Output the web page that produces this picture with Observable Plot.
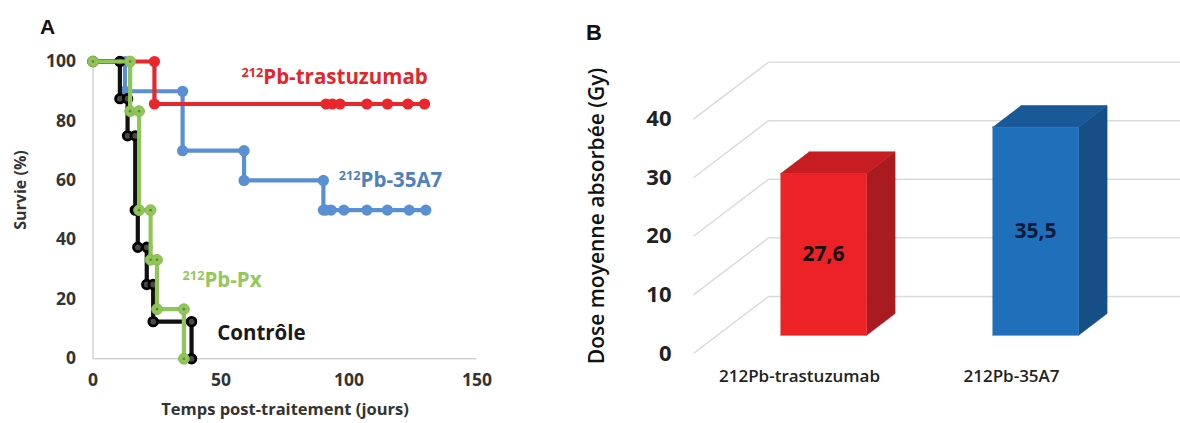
<!DOCTYPE html>
<html><head><meta charset="utf-8">
<script src="https://cdn.jsdelivr.net/npm/d3@7"></script>
<script src="https://cdn.jsdelivr.net/npm/@observablehq/plot@0.6"></script>
<style>
body{margin:0;background:#fff}
#wrap{position:relative;width:1180px;height:423px;overflow:hidden;background:#fff}
.panel{position:absolute;top:0}
.letter{position:absolute;font-family:"Liberation Sans",Arial,sans-serif;font-weight:bold;color:#111;line-height:1}
.vtitle{position:absolute;font-family:'Open Sans',sans-serif;line-height:1;white-space:nowrap;
  transform:translate(-50%,-50%) rotate(-90deg);transform-origin:center center}
#pa svg text{font-weight:bold}
</style></head><body>
<div id="wrap">
  <div id="pa" class="panel" style="left:0"></div>
  <div id="pb" class="panel" style="left:580px"></div>
  <div class="letter" style="left:40px;top:16px;font-size:21px">A</div>
  <div class="letter" style="left:586px;top:22px;font-size:22px">B</div>
  <div class="vtitle" style="left:20px;top:190px;font-size:16px;font-weight:bold;color:#333">Survie (%)</div>
  <div class="vtitle" style="left:596px;top:216px;font-size:21px;font-weight:600;color:#111">Dose moyenne absorbée (Gy)</div>
</div>
<script>
// ---------- Panel A data (Kaplan-Meier step points) ----------
const seriesNames = ["212Pb-35A7", "212Pb-trastuzumab", "Contrôle", "212Pb-Px"];
const a7Days   = [0, 12.5, 12.5, 35, 35, 59, 59, 90, 90, 91, 93, 98, 107, 115, 123.5, 130];
const a7Surv   = [100, 100, 90, 90, 70, 70, 60, 60, 50, 50, 50, 50, 50, 50, 50, 50];
const trasDays = [0, 24, 24, 91, 93.5, 96.5, 107, 115, 123, 129.5];
const trasSurv = [100, 100, 85.7, 85.7, 85.7, 85.7, 85.7, 85.7, 85.7, 85.7];
const ctrlDays = [0, 10.5, 10.5, 13.5, 13.5, 16.5, 16.5, 17.5, 17.5, 21, 21, 23.5, 23.5, 38.5, 38.5];
const ctrlSurv = [100, 100, 87.5, 87.5, 75, 75, 50, 50, 37.5, 37.5, 25, 25, 12.5, 12.5, 0];
const pxDays   = [0, 14.5, 14.5, 18, 18, 22.5, 22.5, 25, 25, 35.5, 35.5];
const pxSurv   = [100, 100, 83.3, 83.3, 50, 50, 33.3, 33.3, 16.7, 16.7, 0];
const xTicksA = [0, 50, 100, 150];
const yTicksA = [0, 20, 40, 60, 80, 100];
// annotation positions (day, survival %)
const labelDay  = [96, 58, 48.5, 35];
const labelSurv = [60, 94.6, 8.5, 26.3];

// ---------- Panel B data ----------
const doseCats = ["212Pb-trastuzumab", "212Pb-35A7"];
const doseVals = [27.6, 35.5];
const yTicksB = [0, 10, 20, 30, 40];

// ---------- styles ----------
const lineColors = {"212Pb-35A7": "#5b8fd3", "212Pb-trastuzumab": "#e8262b", "Contrôle": "#111111", "212Pb-Px": "#8fc657"};
const labelColors = {"212Pb-35A7": "#4f81bd", "212Pb-trastuzumab": "#e3262b", "Contrôle": "#1a1a1a", "212Pb-Px": "#92c85c"};
const FONT = "'Open Sans', sans-serif";

const toPts = (name, days, surv) => days.map((d, i) => ({name, day: d, surv: surv[i]}));
const seriesData = {
  "212Pb-35A7": toPts("212Pb-35A7", a7Days, a7Surv),
  "212Pb-trastuzumab": toPts("212Pb-trastuzumab", trasDays, trasSurv),
  "Contrôle": toPts("Contrôle", ctrlDays, ctrlSurv),
  "212Pb-Px": toPts("212Pb-Px", pxDays, pxSurv)
};

const seriesMarks = [];
for (const name of seriesNames) {
  const pts = seriesData[name];
  const c = lineColors[name];
  seriesMarks.push(Plot.line(pts, {x: "day", y: "surv", stroke: c, strokeWidth: 4.2, strokeLinejoin: "round"}));
  if (name === "Contrôle") {
    seriesMarks.push(Plot.dot(pts, {x: "day", y: "surv", r: 4.3, fill: "#4a4a4a", stroke: "#000", strokeWidth: 2.8}));
  } else if (name === "212Pb-Px") {
    seriesMarks.push(Plot.dot(pts, {x: "day", y: "surv", r: 5.4, fill: c, stroke: "#86bd52", strokeWidth: 1}));
    seriesMarks.push(Plot.dot(pts, {x: "day", y: "surv", r: 1.3, fill: "#62804a"}));
  } else {
    seriesMarks.push(Plot.dot(pts, {x: "day", y: "surv", r: 5.6, fill: c}));
  }
}

const labels = seriesNames.map((name, i) => ({name, day: labelDay[i], surv: labelSurv[i]}));

const chartA = Plot.plot({
  width: 500, height: 423,
  marginLeft: 92.5, marginRight: 23.5, marginTop: 61, marginBottom: 64.7,
  x: {domain: [0, 150]},
  y: {domain: [0, 100]},
  style: {fontFamily: FONT, color: "#333", background: "transparent", overflow: "visible"},
  marks: [
    Plot.ruleX([0], {stroke: "#bdbdbd", strokeWidth: 1}),
    Plot.ruleY([0], {stroke: "#bdbdbd", strokeWidth: 1}),
    Plot.axisY({ticks: yTicksA, tickSize: 0, tickPadding: 17, fontSize: 17.5, fontWeight: "bold", label: null}),
    Plot.axisX({ticks: xTicksA, tickSize: 0, tickPadding: 15, fontSize: 17.5, fontWeight: "bold", label: null}),
    Plot.text(["Temps post-traitement (jours)"], {frameAnchor: "bottom", textAnchor: "middle", dy: 56, fontSize: 16.5, fill: "#333"}),
    ...seriesMarks,
    Plot.text(labels, {x: "day", y: "surv", text: "name", textAnchor: "start", fontSize: 20.5,
      fill: d => labelColors[d.name]})
  ],
  color: {type: "identity"}
});
// superscript mass numbers in panel A labels
chartA.querySelectorAll("text").forEach(t => {
  const s = t.textContent;
  const m = s.match(/^(\d+)(Pb.*)$/);
  if (!m) return;
  t.textContent = "";
  const ns = "http://www.w3.org/2000/svg";
  const a = document.createElementNS(ns, "tspan");
  a.textContent = m[1]; a.setAttribute("font-size", "0.62em"); a.setAttribute("dy", "-0.55em");
  const b = document.createElementNS(ns, "tspan");
  b.textContent = m[2]; b.setAttribute("dy", "0.34em");
  t.append(a, b);
});
document.getElementById("pa").append(chartA);

// ---------- Panel B: pseudo-3D columns ----------
const DX = 0.354;   // depth offset in category units
const DY = 9.73;    // depth offset in value units
const ZF = 0.32, ZB = 0.70, HW = 0.203;
const barFront = ["#ec2226", "#1f6fba"];
const barTop   = ["#c51d22", "#1a5998"];
const barSide  = ["#a81c21", "#164e86"];
const valColor = ["#141010", "#0c1a3a"];

const faces = [];
doseVals.forEach((v, i) => {
  const xl = i + 0.5 - HW, xr = i + 0.5 + HW;
  const P = (x, z, y) => ({x: x + z * DX, y: y + z * DY});
  const add = (id, color, pts) => pts.forEach(p => faces.push({id, color, ...p}));
  add(`side${i}`, barSide[i], [P(xr, ZF, 0), P(xr, ZB, 0), P(xr, ZB, v), P(xr, ZF, v)]);
  add(`top${i}`, barTop[i], [P(xl, ZF, v), P(xr, ZF, v), P(xr, ZB, v), P(xl, ZB, v)]);
  add(`front${i}`, barFront[i], [P(xl, ZF, 0), P(xr, ZF, 0), P(xr, ZF, v), P(xl, ZF, v)]);
});
const bars = doseVals.map((v, i) => ({i, v, cat: doseCats[i]}));

const chartB = Plot.plot({
  width: 600, height: 423,
  marginLeft: 113, marginRight: 63, marginTop: 118.6, marginBottom: 70,
  x: {domain: [0, doseCats.length]},
  y: {domain: [0, 40]},
  color: {type: "identity"},
  style: {fontFamily: FONT, color: "#222", background: "transparent"},
  marks: [
    Plot.link(yTicksB, {x1: DX, x2: doseCats.length + DX + 0.3, y1: v => v + DY, y2: v => v + DY, stroke: "#d9d9d9", strokeWidth: 1.4}),
    Plot.link(yTicksB, {x1: 0, x2: DX, y1: v => v, y2: v => v + DY, stroke: "#d9d9d9", strokeWidth: 1.4}),
    Plot.line(faces, {x: "x", y: "y", z: "id", fill: "color", stroke: "color", strokeWidth: 0.6, strokeLinejoin: "round"}),
    Plot.text(bars, {x: d => d.i + 0.5 + ZF * DX, y: d => d.v / 2 + ZF * DY,
      text: d => d.v.toFixed(1).replace(".", ","), fontSize: 21, fontWeight: "bold", fill: d => valColor[d.i]}),
    Plot.axisY({ticks: yTicksB, tickSize: 0, tickPadding: 22, fontSize: 22, fontWeight: "bold", label: null}),
    Plot.axisX({ticks: doseCats.map((_, i) => i + 0.5), tickFormat: t => doseCats[Math.floor(t)],
      tickSize: 0, tickPadding: 16, fontSize: 17, fontWeight: 600, label: null, fill: "#222"})
  ]
});
document.getElementById("pb").append(chartB);
</script>
</body></html>
